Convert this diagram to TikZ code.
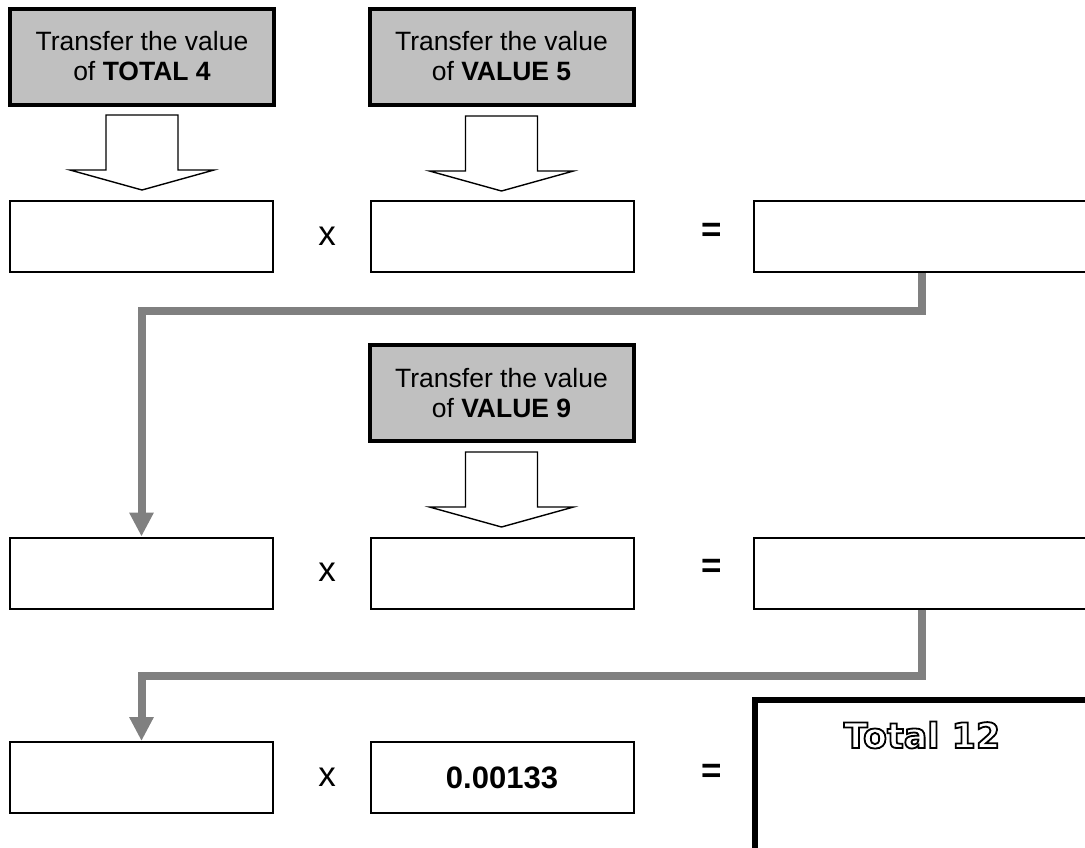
\documentclass[tikz,border=0pt]{standalone}
\usepackage{fontspec}
\setmainfont{Liberation Sans}
\newfontfamily\totalfont{DejaVu Sans}
\usetikzlibrary{arrows.meta,calc}
\definecolor{boxgrey}{HTML}{C0C0C0}
\definecolor{linegrey}{HTML}{808080}
\newcommand\hollowdown[2]{%
  \draw[hollow] ($(#1.south)+(-36,#2)$) -- ++(0,55) -- ++(-36,0)
     -- ++(72,20) -- ++(72,-20) -- ++(-36,0) -- ++(0,-55) -- cycle;}
\newcommand\outlinetext[1]{%
  \special{pdf:literal direct 0 0 0 RG 1 Tr 1.8 w}#1\special{pdf:literal direct 0 Tr 0.4 w}}
\begin{document}
\begin{tikzpicture}[x=1pt,y=-1pt,
  greybox/.style={draw=black,line width=4pt,fill=boxgrey,minimum width=264pt,
    minimum height=96pt,align=center,inner sep=0pt,
    font=\fontsize{26.5}{30}\selectfont},
  valbox/.style={draw=black,line width=2pt,fill=white,minimum width=263pt,
    minimum height=71pt,inner sep=0pt},
  hollow/.style={draw=black,line width=1.4pt,fill=white,line join=miter},
  conn/.style={draw=linegrey,line width=8pt,
    -{Triangle[width=23pt,length=24pt]}},
  op/.style={font=\fontsize{35}{35}\selectfont,inner sep=0pt},
  eq/.style={font=\fontsize{35}{35}\selectfont\bfseries,inner sep=0pt}
]
\useasboundingbox (0,0) rectangle (1085,847);
\clip (0,0) rectangle (1085,847);
\fill[white] (0,0) rectangle (1085,847);

% grey instruction boxes
\node[greybox] (g1) at (142,56.5) {Transfer the value\\of \textbf{TOTAL 4}};
\node[greybox] (g2) at (501.5,56.5) {Transfer the value\\of \textbf{VALUE 5}};
\node[greybox] (g3) at (501.5,393) {Transfer the value\\of \textbf{VALUE 9}};

% row 1
\node[valbox] (a1) at (141.5,236.5) {};
\node[valbox] (b1) at (502,236.5) {};
\node[valbox,minimum width=346pt] (c1) at (927,236.5) {};
\node[op] (x1) at (327,236) {x};
\node[eq] (e1) at (712,232) {=};

% row 2
\node[valbox] (a2) at (141.5,573) {};
\node[valbox] (b2) at (502,573) {};
\node[valbox,minimum width=346pt] (c2) at (927,573) {};
\node[op] (x2) at (327,572) {x};
\node[eq] (e2) at (712,568) {=};

% row 3
\node[valbox] (a3) at (141.5,777.5) {};
\node[valbox,font=\fontsize{31}{31}\selectfont\bfseries] (b3) at (502,777.5) {0.00133};
\node[draw=black,line width=6pt,fill=white,minimum width=344pt,
  minimum height=154pt,inner sep=0pt] (c3) at (927,777) {};
\node[op] (x3) at (327,777) {x};
\node[eq] (e3) at (712,773) {=};

% hollow transfer arrows
\hollowdown{g1}{8.5}
\hollowdown{g2}{9.5}
\hollowdown{g3}{9}

% grey connectors
\coordinate (k1) at (922,310.5);
\draw[conn] (c1.south -| k1) -- (k1) -| (a2.north);
\coordinate (k2) at (922,676);
\draw[conn] (c2.south -| k2) -- (k2) -| (a3.north);

\node[inner sep=0pt,font=\fontsize{35}{35}\totalfont\bfseries] (t12) at (922,735)
  {\outlinetext{Total 12}};
\end{tikzpicture}
\end{document}
